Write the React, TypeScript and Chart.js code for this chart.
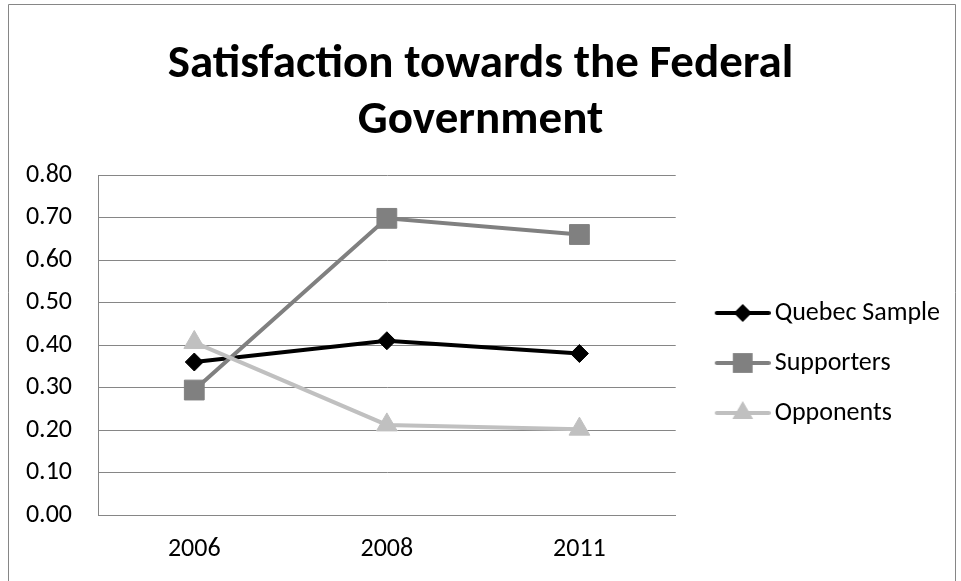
import React, { useEffect, useRef } from 'react';
import { Chart, registerables } from 'chart.js';

Chart.register(...registerables);

// ---- data ----
const categories = ['2006', '2008', '2011'];
const seriesNames = ['Quebec Sample', 'Supporters', 'Opponents'];
const quebecSample = [0.36, 0.41, 0.38];
const supporters = [0.294, 0.698, 0.66];
const opponents = [0.406, 0.212, 0.202];
const yTickValues = [0, 0.1, 0.2, 0.3, 0.4, 0.5, 0.6, 0.7, 0.8];
const titleLines = ['Satisfaction towards the Federal', 'Government'];

const FONT = 'Carlito, Calibri, Lato, sans-serif';
const GRID = '#868686';
const seriesColors = ['#000000', '#808080', '#c0c0c0'];
const seriesStyles = ['rectRot', 'rect', 'triangle'];
const seriesRadius = [9, 14, 12];

function drawMarker(ctx: CanvasRenderingContext2D, style: string, x: number, y: number, r: number) {
  ctx.beginPath();
  if (style === 'rectRot') {
    ctx.moveTo(x - r, y);
    ctx.lineTo(x, y - r);
    ctx.lineTo(x + r, y);
    ctx.lineTo(x, y + r);
  } else if (style === 'rect') {
    const s = Math.SQRT1_2 * r;
    ctx.rect(x - s, y - s, 2 * s, 2 * s);
  } else {
    const a = (2 * Math.PI) / 3;
    ctx.moveTo(x, y - r);
    ctx.lineTo(x + Math.sin(a) * r, y - Math.cos(a) * r);
    ctx.lineTo(x + Math.sin(2 * a) * r, y - Math.cos(2 * a) * r);
  }
  ctx.closePath();
  ctx.fill();
}

function makeIcon(color: string, style: string, r: number) {
  const c = document.createElement('canvas');
  c.width = 80;
  c.height = 30;
  const ctx = c.getContext('2d') as CanvasRenderingContext2D;
  ctx.strokeStyle = color;
  ctx.fillStyle = color;
  ctx.lineWidth = 4;
  ctx.lineCap = 'round';
  ctx.beginPath();
  ctx.moveTo(26, 15);
  ctx.lineTo(78, 15);
  ctx.stroke();
  drawMarker(ctx, style, 52, 15, r);
  return c;
}

const framePlugin = {
  id: 'frame',
  beforeDraw(chart: any) {
    const { ctx, width, height } = chart;
    ctx.save();
    ctx.fillStyle = '#ffffff';
    ctx.fillRect(0, 0, width, height);
    ctx.strokeStyle = GRID;
    ctx.lineWidth = 1;
    ctx.beginPath();
    ctx.moveTo(8.5, height);
    ctx.lineTo(8.5, 4.5);
    ctx.lineTo(955.5, 4.5);
    ctx.lineTo(955.5, height);
    ctx.stroke();
    ctx.restore();
  },
};

export default function App() {
  const ref = useRef<HTMLCanvasElement | null>(null);

  useEffect(() => {
    if (!ref.current) return;
    const values = [quebecSample, supporters, opponents];
    const icons = seriesNames.map((_, i) => makeIcon(seriesColors[i], seriesStyles[i], seriesRadius[i]));
    const chart = new Chart(ref.current, {
      type: 'line',
      data: {
        labels: categories,
        datasets: seriesNames.map((name, i) => ({
          label: name,
          data: values[i],
          borderColor: seriesColors[i],
          backgroundColor: seriesColors[i],
          borderWidth: 4,
          pointStyle: seriesStyles[i],
          pointRadius: seriesRadius[i],
          pointHoverRadius: seriesRadius[i],
          pointBackgroundColor: seriesColors[i],
          pointBorderColor: seriesColors[i],
          pointBorderWidth: 1,
          tension: 0,
          fill: false,
          order: 3 - i,
        })),
      },
      options: {
        responsive: false,
        animation: false,
        devicePixelRatio: 1,
        layout: { padding: { left: 11, right: 11, top: 0, bottom: 0 } },
        plugins: {
          tooltip: { enabled: false },
          title: {
            display: true,
            text: titleLines,
            color: '#000000',
            font: { family: FONT, size: 47, weight: 'bold', lineHeight: 1.2 },
            padding: { top: 37, bottom: 25.2 },
          },
          legend: {
            display: true,
            position: 'right',
            fullSize: false,
            maxWidth: 400,
            title: { display: true, text: '', font: { size: 12, lineHeight: 1.2 }, padding: { top: 0, bottom: 21.6 } },
            labels: {
              usePointStyle: true,
              pointStyleWidth: 62,
              padding: 24,
              color: '#000000',
              font: { family: FONT, size: 26 },
              generateLabels: (ch: any) =>
                ch.data.datasets.map((ds: any, i: number) => ({
                  text: ds.label,
                  fillStyle: seriesColors[i],
                  strokeStyle: seriesColors[i],
                  fontColor: '#000000',
                  lineWidth: 0,
                  pointStyle: icons[i],
                  hidden: false,
                  datasetIndex: i,
                })),
            },
          },
        },
        scales: {
          x: {
            type: 'category',
            offset: true,
            grid: { display: false, drawTicks: false },
            border: { display: true, color: GRID, width: 1 },
            ticks: { color: '#000000', font: { family: FONT, size: 26 }, padding: 19 },
            afterFit: (s: any) => {
              s.height = 66;
            },
          },
          y: {
            min: 0,
            max: 0.8,
            grid: { color: GRID, lineWidth: 1, drawTicks: false },
            border: { display: true, color: GRID, width: 1 },
            ticks: {
              color: '#000000',
              font: { family: FONT, size: 26 },
              padding: 26,
              callback: (v: any) => Number(v).toFixed(2),
            },
            afterBuildTicks: (s: any) => {
              s.ticks = yTickValues.map((v) => ({ value: v }));
            },
            afterFit: (s: any) => {
              s.width = 87;
            },
          },
        },
      },
      plugins: [framePlugin],
    } as any);
    return () => chart.destroy();
  }, []);

  return (
    <div style={{ position: 'fixed', left: 0, top: 0, width: 961, height: 581, background: '#fff' }}>
      <canvas ref={ref} width={961} height={581} style={{ width: 961, height: 581, display: 'block' }} />
    </div>
  );
}
